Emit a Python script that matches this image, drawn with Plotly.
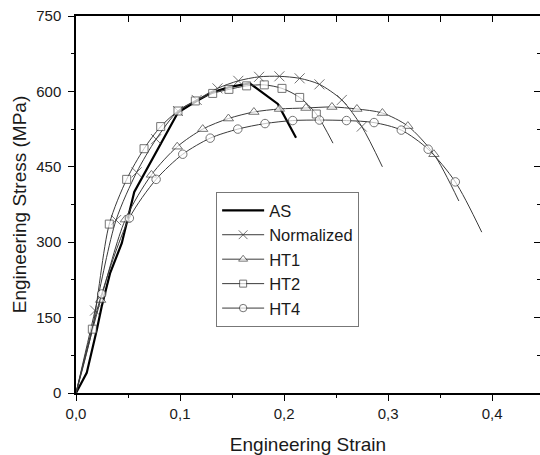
import plotly.graph_objects as go

# values (strain, stress in MPa)
as_strain = [0, 0.0103, 0.020, 0.0247, 0.0327, 0.044, 0.056, 0.098, 0.115, 0.132, 0.148, 0.167, 0.194, 0.2115]
as_stress = [0, 40, 126, 172, 238, 298, 400, 558, 580, 599, 609, 616, 575, 508]

norm_strain = [0.0183, 0.0385, 0.0583, 0.077, 0.098, 0.116, 0.136, 0.156, 0.176, 0.1955, 0.215, 0.234, 0.2555, 0.2747]
norm_stress = [164, 344, 439, 505, 561, 583, 606, 621, 629, 630, 626, 614, 583, 530]
norm_end = (0.2945, 450)

ht1_strain = [0.0237, 0.0474, 0.0725, 0.0973, 0.1218, 0.1465, 0.171, 0.1955, 0.221, 0.246, 0.27, 0.2945, 0.319, 0.344]
ht1_stress = [185, 345, 434, 490, 525, 546, 559, 565, 567, 569, 565, 557, 531, 475]
ht1_end = (0.368, 382)

ht2_strain = [0.0157, 0.032, 0.0487, 0.0654, 0.0814, 0.098, 0.1147, 0.1314, 0.147, 0.164, 0.181, 0.198, 0.215, 0.231]
ht2_stress = [127, 336, 425, 486, 530, 561, 581, 596, 604, 611, 613, 606, 588, 555]
ht2_end = (0.247, 497)

ht4_strain = [0.0247, 0.0513, 0.077, 0.1026, 0.129, 0.1555, 0.1817, 0.2083, 0.234, 0.260, 0.2865, 0.3127, 0.3385, 0.3646]
ht4_stress = [197, 348, 425, 475, 507, 525, 536, 542, 543, 542, 538, 523, 485, 420]
ht4_end = (0.39, 320)

x_ticks = [0, 0.1, 0.2, 0.3, 0.4]
y_ticks = [0, 150, 300, 450, 600, 750]

FONT = "Liberation Sans, Arial, sans-serif"
GRAY = "#3a3a3a"

fig = go.Figure()

fig.add_trace(go.Scatter(x=as_strain, y=as_stress, name="AS", mode="lines",
                         line=dict(color="black", width=2.2)))

series = [
    ("Normalized", norm_strain, norm_stress, norm_end, "x-thin", 10, GRAY),
    ("HT1", ht1_strain, ht1_stress, ht1_end, "triangle-up", 9, "white"),
    ("HT2", ht2_strain, ht2_stress, ht2_end, "square", 8, "white"),
    ("HT4", ht4_strain, ht4_stress, ht4_end, "circle", 8.5, "white"),
]
for name, xs, ys, end, sym, sz, fill in series:
    x = [0] + xs + [end[0]]
    y = [0] + ys + [end[1]]
    sizes = [0] + [sz] * len(xs) + [0]
    fig.add_trace(go.Scatter(
        x=x, y=y, name=name, mode="lines+markers",
        line=dict(color=GRAY, width=1, shape="spline", smoothing=0.8),
        marker=dict(symbol=sym, size=sizes, color=fill,
                    line=dict(color=GRAY, width=1)),
    ))

# dummy trace so the mirrored axes get drawn
fig.add_trace(go.Scatter(x=[None], y=[None], xaxis="x2", yaxis="y2",
                         showlegend=False, hoverinfo="skip"))

xr = [0, 0.446]
yr = [0, 750]
axis_common = dict(showline=True, linecolor="black", linewidth=1.5, automargin=False,
                   tickcolor="black", tickwidth=1.3, showgrid=False, zeroline=False)

fig.update_layout(
    template="none",
    width=540, height=455,
    margin=dict(l=76, r=0, t=16, b=62),
    plot_bgcolor="white", paper_bgcolor="white",
    separators=",.",
    font=dict(family=FONT, color="#1a1a1a", size=15),
    xaxis=dict(range=xr, tickvals=x_ticks, tickformat=".1f", ticks="outside", ticklen=6,
               minor=dict(dtick=0.05, tick0=0, ticks="outside", ticklen=3.5, tickcolor="black"),
               title=dict(text="Engineering Strain", font=dict(size=19), standoff=17),
               tickfont=dict(size=15), **axis_common),
    yaxis=dict(range=yr, tickvals=y_ticks, ticks="outside", ticklen=6, ticklabelstandoff=4,
               minor=dict(dtick=75, tick0=0, ticks="outside", ticklen=3.5, tickcolor="black"),
               title=dict(text="Engineering Stress (MPa)", font=dict(size=19), standoff=5),
               tickfont=dict(size=15), **axis_common),
    xaxis2=dict(range=xr, overlaying="x", side="top", anchor="y", tickvals=x_ticks,
                ticks="inside", ticklen=6, showticklabels=False,
                minor=dict(dtick=0.05, tick0=0, ticks="inside", ticklen=6, tickcolor="black"),
                **axis_common),
    yaxis2=dict(range=yr, overlaying="y", side="right", anchor="x", tickvals=y_ticks,
                ticks="inside", ticklen=6, showticklabels=False, showline=False, automargin=False,
                minor=dict(dtick=75, tick0=0, ticks="inside", ticklen=3.5, tickcolor="black"),
                tickcolor="black", tickwidth=1.3, showgrid=False, zeroline=False),
    legend=dict(x=0.302, y=0.533, xanchor="left", yanchor="top",
                bordercolor="#777777", borderwidth=1, bgcolor="white",
                font=dict(size=16.5, family=FONT), tracegroupgap=0, itemwidth=42),
    showlegend=True,
)

fig.write_html("out.html", config={"displayModeBar": False},
               post_script="document.body.style.margin='0';")
